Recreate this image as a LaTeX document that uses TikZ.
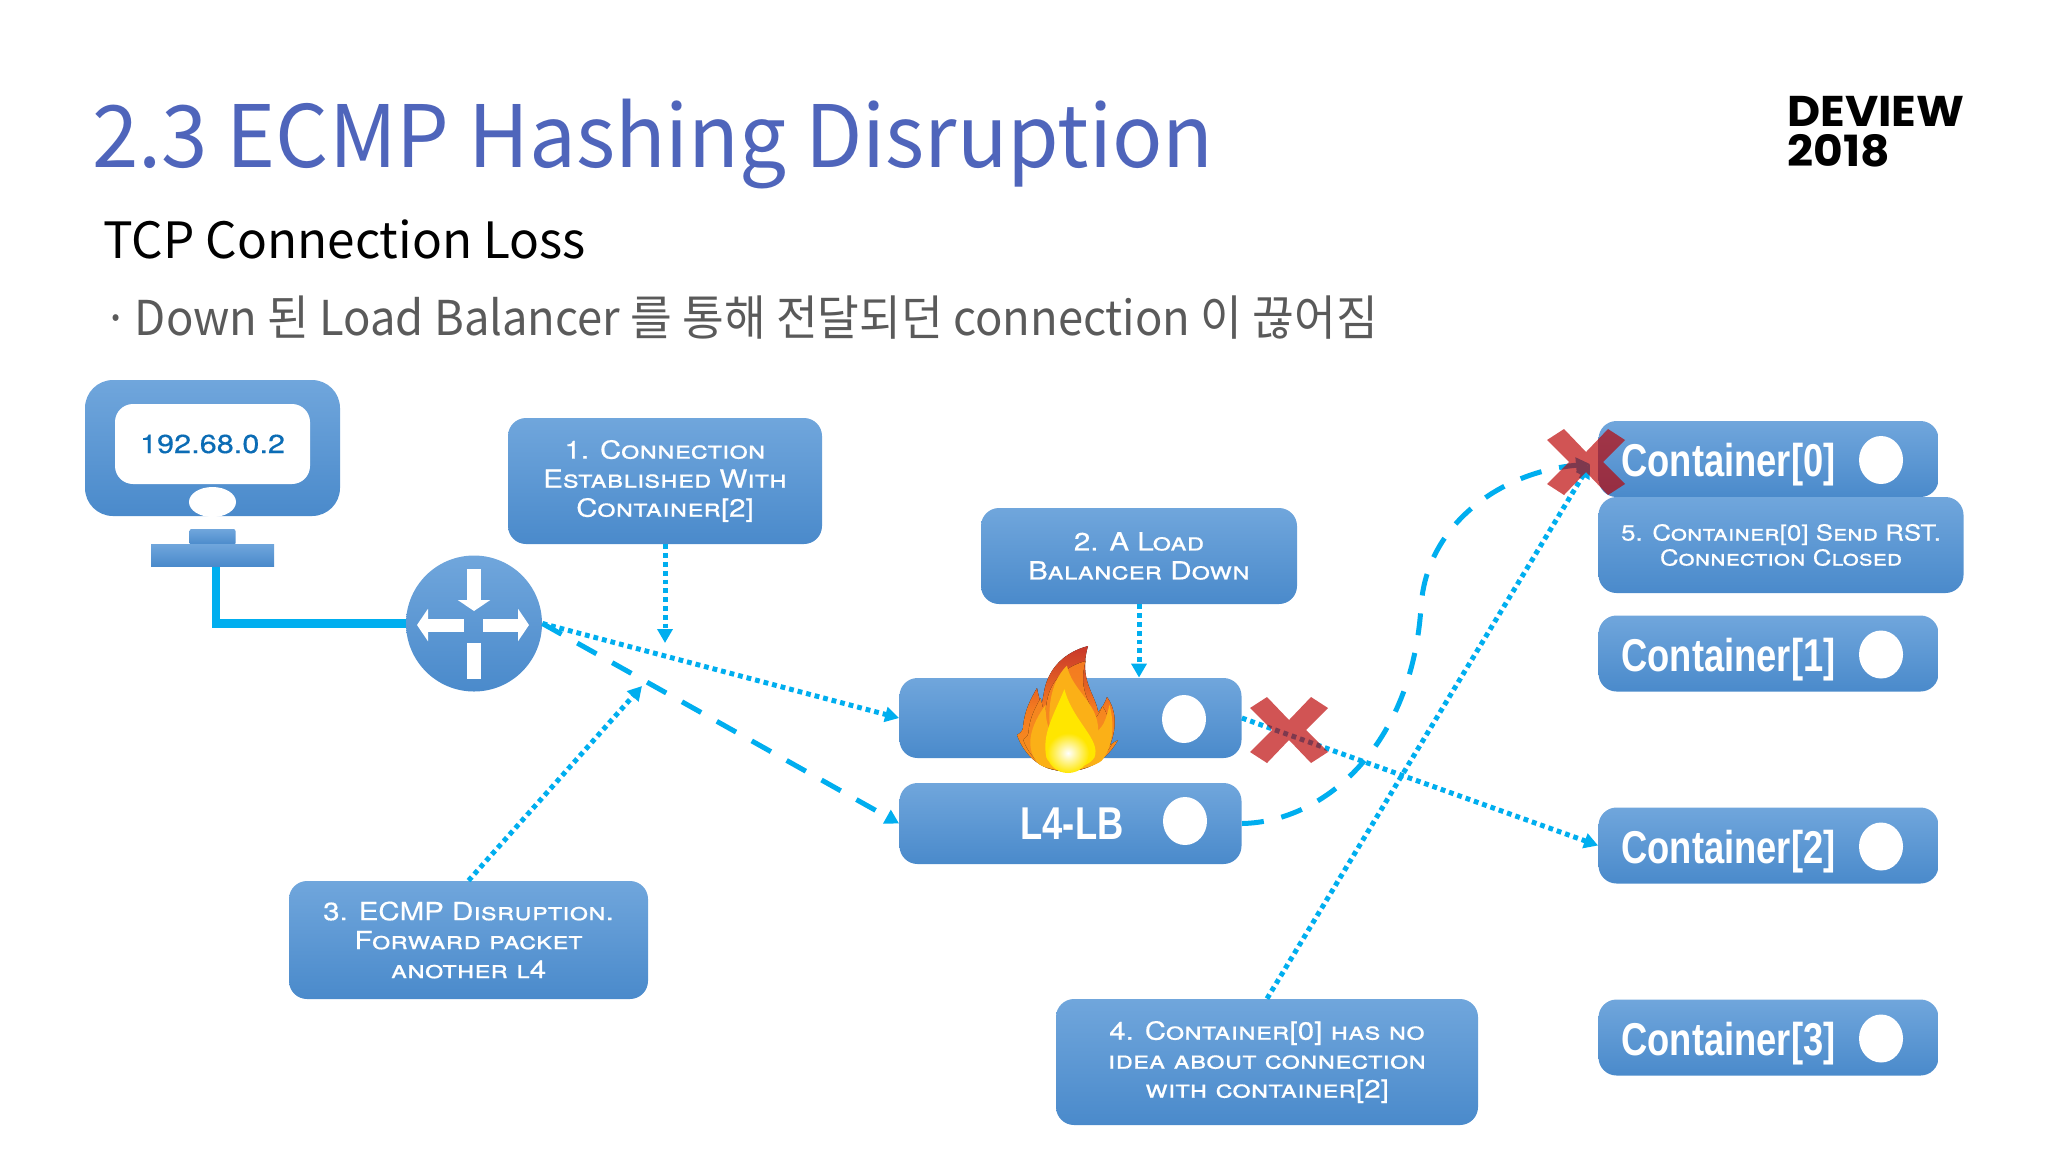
\documentclass[tikz,border=0pt]{standalone}
\usepackage{fontspec}
\setmainfont[FakeStretch=0.97]{Noto Sans CJK KR}
\newfontfamily\bulletfont[FakeStretch=0.945]{Noto Sans CJK KR}
\newfontfamily\subheadfont[FakeStretch=0.99]{Noto Sans CJK KR}
\newfontfamily\capfont[Letters=SmallCaps,FakeStretch=1.18,FakeBold=0.4]{TeX Gyre Heros}
\newfontfamily\contfont[FakeStretch=0.79]{Liberation Sans}
\newfontfamily\logofont[FakeStretch=1.06]{Poppins}
\usetikzlibrary{arrows.meta,positioning,shapes.geometric,calc}
\definecolor{titleblue}{HTML}{4F65BB}
\definecolor{subgray}{HTML}{5A5A5A}
\definecolor{boxtop}{HTML}{70A6DC}
\definecolor{boxbot}{HTML}{4A8ACB}
\definecolor{linkblue}{HTML}{00AEEF}
\definecolor{iptext}{HTML}{0B6CB5}
\definecolor{xred}{HTML}{BB0000}
\definecolor{flametop}{HTML}{C8372B}
\definecolor{flamelow}{HTML}{F7931E}
\definecolor{flamemid}{HTML}{F47B20}
\definecolor{flamegold}{HTML}{FBB017}
\definecolor{flameyellow}{HTML}{FFE600}
\tikzset{bluebox/.style={rounded corners=9pt,top color=boxtop,bottom color=boxbot,draw=none,inner sep=0pt,text=white,align=center},
         msgbox/.style={bluebox,font=\capfont\fontsize{12.5}{14.5}\selectfont},
         contbox/.style={bluebox,minimum width=170pt,minimum height=38pt},
         contlabel/.style={text=white,inner sep=0pt,font=\contfont\bfseries\fontsize{23}{23}\selectfont},
         ledcircle/.style={ellipse,fill=white,inner sep=0pt,minimum width=22pt,minimum height=24pt},
         dotlink/.style={linkblue,line width=2.5pt,dash pattern=on 2.4pt off 2pt,-{Triangle[length=7pt,width=7.5pt]}},
         dashlink/.style={linkblue,line width=2.5pt,dash pattern=on 11pt off 9pt,-{Triangle[length=7pt,width=7.5pt]}},
         routerarrow/.style={white,line width=7pt,-{Triangle[length=5.5pt,width=16pt]}},
         failmark/.style={xred,opacity=0.67}}
\newcommand{\crossshape}[2]{(#1-39,#2-22) -- (#1-22,#2-33) -- (#1,#2-10) -- (#1+22,#2-33) -- (#1+39,#2-22) -- (#1+17,#2) -- (#1+39,#2+22) -- (#1+22,#2+33) -- (#1,#2+10) -- (#1-22,#2+33) -- (#1-39,#2+22) -- (#1-17,#2) -- cycle}
\newcommand{\flameshape}{(1088,646) .. controls (1065,652) and (1048,668) .. (1044,692) .. controls (1043,698) and (1042,703) .. (1041,706) .. controls (1040,700) and (1038,694) .. (1037,688) .. controls (1030,700) and (1024,712) .. (1023,728) .. controls (1022,732) and (1019,734) .. (1017,735) .. controls (1024,755) and (1040,768) .. (1055,770) .. controls (1062,772) and (1072,772) .. (1078,770) .. controls (1092,768) and (1108,758) .. (1118,740) .. controls (1114,742) and (1112,744) .. (1110,745) .. controls (1118,725) and (1115,708) .. (1107,697) .. controls (1105,703) and (1102,708) .. (1098,712) .. controls (1096,695) and (1078,680) .. (1088,646) -- cycle}
\begin{document}
\begin{tikzpicture}[x=0.5pt,y=-0.5pt]
\useasboundingbox (0,0) rectangle (2048,1152);
% heading
\node[anchor=base west,inner sep=0pt,text=titleblue,font=\fontsize{43}{43}\selectfont] (heading) at (92,167) {2.3 ECMP Hashing Disruption};
\node[anchor=base west,inner sep=0pt,font=\subheadfont\fontsize{25}{25}\selectfont] (subhead) at (103,258) {TCP Connection Loss};
\node[anchor=base west,inner sep=0pt,text=subgray,font=\bulletfont\fontsize{24}{24}\selectfont] (bullet) at (103,335) {·\hspace{-2pt} Down 된 Load Balancer 를 통해 전달되던 connection 이 끊어짐};
\node[anchor=base west,inner sep=0pt,align=left,font=\logofont\bfseries\fontsize{21.5}{20}\selectfont] (logo) at (1787,166) {DEVIEW\\2018};
% client and router
\node[bluebox,rounded corners=14pt,minimum width=127.5pt,minimum height=68pt] (monitor) at (212.5,448) {};
\node[rounded corners=9pt,fill=white,minimum width=97.5pt,minimum height=40pt,inner sep=0pt,text=iptext,font=\capfont\fontsize{13}{13}\selectfont] (screen) at (212.5,444) {192.68.0.2};
\node[ellipse,fill=white,inner sep=0pt,minimum width=23.5pt,minimum height=15pt] (monbtn) at (212.5,502) {};
\node[bluebox,rounded corners=1pt,minimum width=23pt,minimum height=8pt] (stand) at (212.5,537) {};
\node[bluebox,rounded corners=0pt,minimum width=61.5pt,minimum height=11pt] (standbase) at (212.5,555) {};
\node[circle,top color=boxtop,bottom color=boxbot,inner sep=0pt,minimum size=68pt] (router) at (474,623.5) {};
\draw[linkblue,line width=4.3pt] (216,567) |- (router.west);
\draw[routerarrow] (474,569) -- (474,611);
\draw[routerarrow,line width=6.5pt] (464,625) -- (417,625);
\draw[routerarrow,line width=6.5pt] (483,625) -- (529,625);
\draw[white,line width=7pt] (474,643) -- (474,679);
% load balancers
\node[bluebox,minimum width=171pt,minimum height=40pt] (lbDown) at (1070.5,718) {};
\node[bluebox,minimum width=171pt,minimum height=40.5pt] (lbLive) at (1070.5,823.5) {};
\node[contlabel] (lbLabel) at (1072,824) {L4-LB};
\node[ledcircle] (lbDownDot) at (1184,719) {};
\node[ledcircle] (lbLiveDot) at (1185,821) {};
% containers
\foreach \i/\y in {0/459,1/653.5,2/845.5,3/1037.5} {
  \node[contbox] (cont\i) at (1768.5,\y) {};
  \node[contlabel,anchor=west] (contText\i) at (1621,\y+6) {Container[\i]};
  \node[ledcircle] (contDot\i) at (1881,\y+1) {};
}
% message boxes
\node[msgbox,minimum width=157pt,minimum height=63pt] (msgOne) at (665,481) {1. Connection\\Established With\\Container[2]};
\node[msgbox,minimum width=158pt,minimum height=48pt] (msgTwo) at (1139,556) {2. A Load\\Balancer Down};
\node[msgbox,minimum width=179.5pt,minimum height=59pt] (msgThree) at (468.5,940) {3. ECMP Disruption.\\Forward packet\\another l4};
\node[msgbox,minimum width=211pt,minimum height=63pt] (msgFour) at (1267,1062) {4. Container[0] has no\\idea about connection\\with container[2]};
\node[msgbox,minimum width=182.5pt,minimum height=48pt,font=\capfont\fontsize{11}{12.5}\selectfont] (msgFive) at (1781,545) {5. Container[0] Send RST.\\Connection Closed};
% connectors
\coordinate (estEnd) at (665,643);
\coordinate (thirdEnd) at (642,686);
\coordinate (resetEnd) at (1590,464);
\draw[dotlink] (msgOne.south) -- (estEnd);
\draw[dotlink] (msgTwo.south) -- (msgTwo.south |- lbDown.north);
\draw[dotlink] (msgThree.north) -- (thirdEnd);
\draw[dotlink] (router.east) -- (lbDown.west);
\draw[dashlink] (router.east) -- (lbLive.west);
\draw[dotlink] (lbDown.east) -- (cont2.west);
\draw[dashlink] (lbLive.east) .. controls (1325,822) and (1412,745) .. (1421,607) .. controls (1426,525) and (1500,472) .. (resetEnd);
\draw[dotlink] (msgFour.north) -- (resetEnd);
% flame
\fill[top color=flametop,bottom color=flamelow,middle color=flamemid] \flameshape;
\fill[top color=flamemid,bottom color=flamelow,scale around={0.88:(1068,772)}] \flameshape;
\fill[flamegold,scale around={1.12:(1068,772)}] (1067,677) .. controls (1052,692) and (1050,715) .. (1052,735) .. controls (1048,728) and (1048,718) .. (1048,712) .. controls (1035,730) and (1028,750) .. (1042,765) .. controls (1052,772) and (1085,772) .. (1098,762) .. controls (1108,750) and (1110,730) .. (1105,712) .. controls (1102,725) and (1100,730) .. (1095,735) .. controls (1095,710) and (1072,700) .. (1067,677) -- cycle;
\fill[flameyellow,scale around={1.2:(1068,772)}] (1065,703) .. controls (1056,725) and (1046,740) .. (1050,760) .. controls (1055,772) and (1082,772) .. (1090,760) .. controls (1096,745) and (1072,730) .. (1065,703) -- cycle;
\shade[inner color=white,outer color=flameyellow] (1068,753) ellipse [x radius=21,y radius=20];
% failure marks
\fill[failmark] \crossshape{1586}{462};
\fill[failmark] \crossshape{1289}{730};
\end{tikzpicture}
\end{document}
